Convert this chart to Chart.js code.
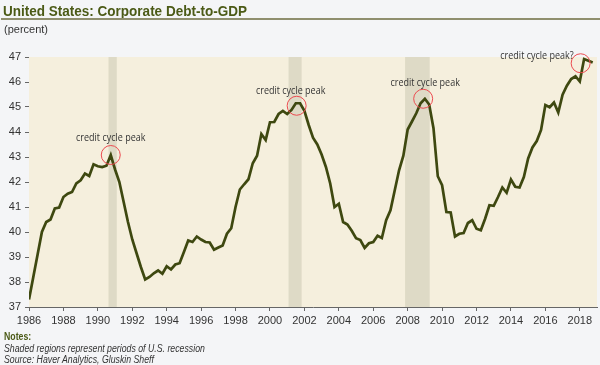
<!DOCTYPE html>
<html>
<head>
<meta charset="utf-8">
<script src="https://cdn.jsdelivr.net/npm/chart.js@4/dist/chart.umd.min.js"></script>
<style>
  body { margin: 0; background: #F4F5F7; }
  #wrap { position: relative; width: 600px; height: 365px; overflow: hidden; }
  #title { position: absolute; left: 3px; top: 3px; font: bold 14px "Liberation Sans", Arial, sans-serif; color: #4B5A16; white-space: nowrap; transform: scaleX(0.965); transform-origin: left top; }
  #rule { position: absolute; left: 1px; right: 0; top: 18px; border-top: 2px solid #8F8F6E; }
  #unit { position: absolute; left: 4px; top: 23px; font: 11px "Liberation Sans", Arial, sans-serif; color: #333; }
  #notes { position: absolute; left: 4px; top: 331px; font: italic 10px "Liberation Sans", Arial, sans-serif; color: #333; line-height: 11.5px; transform: scaleX(0.875); transform-origin: left top; white-space: nowrap; }
  #notes b { font-style: normal; color: #4B5A16; }
  canvas { position: absolute; left: 0; top: 0; }
</style>
</head>
<body>
<div id="wrap">
  <canvas id="debt_chart" width="600" height="365"></canvas>
  <div id="title">United States: Corporate Debt-to-GDP</div>
  <div id="rule"></div>
  <div id="unit">(percent)</div>
  <div id="notes"><b>Notes:</b><br>Shaded regions represent periods of U.S. recession<br>Source: Haver Analytics, Gluskin Sheff</div>
</div>
<script>
// quarterly, 1986Q1 .. 2018Q4
var firstYear = 1986
var debtToGdp = [
  37.3, 38.2, 39.1, 40.0,
  40.4, 40.5, 40.94, 40.98,
  41.4, 41.53, 41.6, 41.94,
  42.07, 42.34, 42.24, 42.71,
  42.63, 42.6, 42.65, 43.08,
  42.5, 42.0, 41.2, 40.4,
  39.7, 39.15, 38.6, 38.1,
  38.2, 38.35, 38.46, 38.33,
  38.63, 38.5, 38.7, 38.75,
  39.2, 39.66, 39.6, 39.82,
  39.7, 39.6, 39.58, 39.29,
  39.38, 39.46, 39.93, 40.15,
  41.0, 41.7, 41.91, 42.11,
  42.75, 43.05, 43.92, 43.68,
  44.39, 44.4, 44.72, 44.84,
  44.72, 44.88, 45.15, 45.15,
  44.85, 44.28, 43.77, 43.5,
  43.1, 42.6, 41.94, 41.0,
  41.13, 40.4, 40.3, 40.05,
  39.75, 39.68, 39.36, 39.55,
  39.6, 39.85, 39.76, 40.47,
  40.87, 41.67, 42.47, 43.05,
  44.1, 44.42, 44.75, 45.15,
  45.33, 45.1, 44.15, 42.23,
  41.87, 40.8, 40.78, 39.82,
  39.93, 39.96, 40.36, 40.47,
  40.13, 40.07, 40.53, 41.07,
  41.05, 41.4, 41.78, 41.57,
  42.1, 41.81, 41.78, 42.2,
  42.94, 43.38, 43.64, 44.08,
  45.08, 44.99, 45.18, 44.78,
  45.49, 45.85, 46.12, 46.23,
  46.02, 46.92, 46.85, 46.78
]
var xTickYears = [1986, 1988, 1990, 1992, 1994, 1996, 1998, 2000, 2002, 2004, 2006, 2008, 2010, 2012, 2014, 2016, 2018]
var recessionStart = [1990.62, 2001.08, 2007.85]
var recessionEnd = [1991.1, 2001.84, 2009.28]
var peakYears = [1990.75, 2001.55, 2008.9, 2018.05]
var peakValues = [43.08, 45.05, 45.33, 46.75]
var peakLabels = ['credit cycle peak', 'credit cycle peak', 'credit cycle peak', 'credit cycle peak?']

var points = debtToGdp.map((v, i) => ({ x: firstYear + i / 4, y: v }))

// label offsets from circle centre (px) and alignment
var labelStyle = [
  { dx: 0, dy: -17, align: 'center' },
  { dx: -6, dy: -15, align: 'center' },
  { dx: 2, dy: -16, align: 'center' },
  { dx: -7, dy: -7, align: 'right' }
]

const plotBack = {
  id: 'plotBack',
  beforeDatasetsDraw: (chart) => {
    const { ctx, chartArea: a, scales: { x } } = chart
    ctx.save()
    ctx.fillStyle = '#F5EFDD'
    ctx.fillRect(a.left, a.top, a.right - a.left, a.bottom - a.top)
    ctx.fillStyle = '#DEDAC6'
    for (let i = 0; i < recessionStart.length; i++) {
      const x0 = x.getPixelForValue(recessionStart[i])
      const x1 = x.getPixelForValue(recessionEnd[i])
      ctx.fillRect(x0, a.top, x1 - x0, a.bottom - a.top)
    }
    ctx.restore()
  }
}

const peakMarks = {
  id: 'peakMarks',
  afterDatasetsDraw: (chart) => {
    const { ctx, scales: { x, y } } = chart
    ctx.save()
    ctx.font = '10px "Open Sans", "DejaVu Sans", sans-serif'
    ctx.textBaseline = 'middle'
    for (let i = 0; i < peakYears.length; i++) {
      const cx = x.getPixelForValue(peakYears[i])
      const cy = y.getPixelForValue(peakValues[i])
      ctx.beginPath()
      ctx.arc(cx, cy, 9.5, 0, Math.PI * 2)
      ctx.strokeStyle = '#EC4B50'
      ctx.lineWidth = 1
      ctx.stroke()
      const st = labelStyle[i]
      ctx.fillStyle = '#333'
      ctx.textAlign = st.align
      // squeeze a little, the original uses a narrow face
      const tx = cx + st.dx
      ctx.save()
      ctx.translate(tx, cy + st.dy)
      ctx.scale(0.9, 1)
      ctx.fillText(peakLabels[i], 0, 0)
      ctx.restore()
    }
    ctx.restore()
  }
}

new Chart(document.getElementById('debt_chart').getContext('2d'), {
  type: 'line',
  data: {
    datasets: [{
      data: points,
      borderColor: '#3E4810',
      borderWidth: 2.7,
      pointRadius: 0,
      tension: 0,
      fill: false
    }]
  },
  options: {
    responsive: false,
    animation: false,
    layout: { padding: { top: 57, right: 3, left: 0, bottom: 0 } },
    plugins: { legend: { display: false }, tooltip: { enabled: false } },
    scales: {
      x: {
        type: 'linear',
        min: 1986,
        max: 2019,
        afterBuildTicks: (s) => { s.ticks = xTickYears.map(v => ({ value: v })) },
        afterFit: (s) => { s.height = 58 },
        border: { color: '#666', width: 1 },
        grid: { drawOnChartArea: false, tickLength: 4, tickColor: '#666' },
        ticks: { color: '#333', font: { family: '"Liberation Sans", Arial', size: 11 }, padding: 3, maxRotation: 0, autoSkip: false, callback: (v) => String(v) }
      },
      y: {
        min: 37,
        max: 47,
        afterFit: (s) => { s.width = 29 },
        border: { color: '#666', width: 1 },
        grid: { drawOnChartArea: false, tickLength: 4, tickColor: '#666' },
        ticks: { stepSize: 1, color: '#333', font: { family: '"Liberation Sans", Arial', size: 11 }, padding: 4 }
      }
    }
  },
  plugins: [plotBack, peakMarks]
})
</script>
</body>
</html>
